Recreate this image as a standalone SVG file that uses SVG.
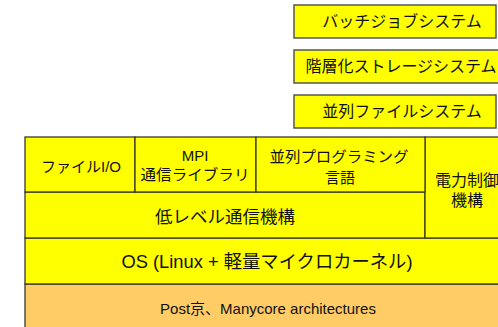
<svg xmlns="http://www.w3.org/2000/svg" width="498" height="327" viewBox="0 0 498 327">
<style>
.y{fill:#FFFF00;stroke:#3a3a2a;stroke-width:1.3}
.o{fill:#FFCC66;stroke:#3a3a2a;stroke-width:1.3}
.tb{fill:#FFFF00;stroke:#555555;stroke-width:1.5}
text{font-family:"Liberation Sans","Noto Sans CJK JP",sans-serif;fill:#111;text-anchor:middle;dominant-baseline:central}
.t16{font-size:16px}
.t15{font-size:15px}
</style>
<rect width="498" height="327" fill="#ffffff"/>
<g id="batch"><rect class="tb" x="294" y="5" width="202" height="33"/><text class="t16" x="402" y="21.5">バッチジョブシステム</text></g>
<g id="storage"><rect class="tb" x="294" y="50" width="210" height="33"/><text class="t16" x="401" y="66.5">階層化ストレージシステム</text></g>
<g id="pfs"><rect class="tb" x="294" y="95" width="202" height="33"/><text class="t16" x="402" y="111.5">並列ファイルシステム</text></g>
<g id="post"><rect class="o" x="25" y="284" width="490" height="50"/><text class="t15" x="268" y="308">Post京、Manycore architectures</text></g>
<g id="os"><rect class="y" x="25" y="238" width="485" height="46"/><text x="267" y="261" style="font-size:18.5px" textLength="291" lengthAdjust="spacingAndGlyphs">OS (Linux + 軽量マイクロカーネル)</text></g>
<g id="lowcomm"><rect class="y" x="25" y="192" width="400" height="46"/><text x="225" y="217" style="font-size:17px" textLength="140" lengthAdjust="spacingAndGlyphs">低レベル通信機構</text></g>
<g id="power"><rect class="y" x="425" y="137" width="85" height="101"/><text class="t16" x="467" y="180">電力制御</text><text class="t16" x="467" y="200">機構</text></g>
<g id="fileio"><rect class="y" x="25" y="137" width="110" height="55"/><text class="t15" x="81" y="166">ファイルI/O</text></g>
<g id="mpi"><rect class="y" x="135" y="137" width="121" height="55"/><text class="t15" x="195" y="155">MPI</text><text class="t15" x="195" y="174" textLength="109" lengthAdjust="spacingAndGlyphs">通信ライブラリ</text></g>
<g id="plang"><rect class="y" x="256" y="137" width="169" height="55"/><text class="t15" x="339" y="156" textLength="139" lengthAdjust="spacingAndGlyphs">並列プログラミング</text><text class="t15" x="340" y="177">言語</text></g>
<g id="connectors"></g>
</svg>
